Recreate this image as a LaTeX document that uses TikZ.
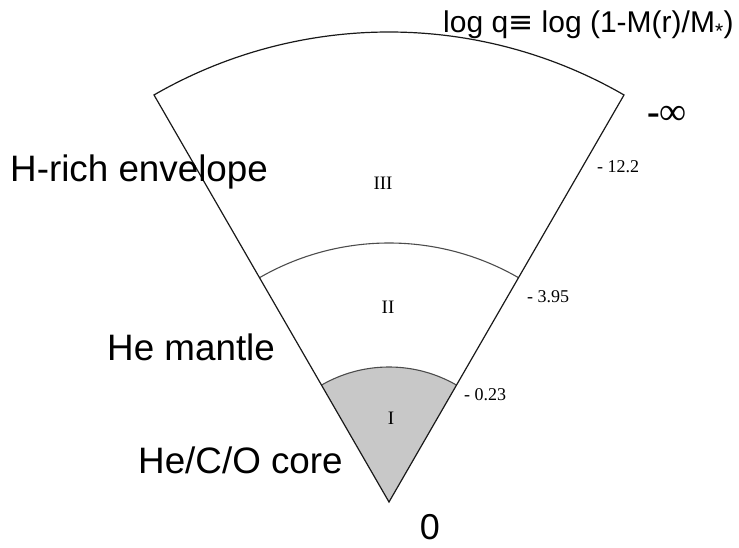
\documentclass[tikz,border=0pt]{standalone}
\usepackage{fontspec}
\setmainfont{Liberation Sans}
\newfontfamily\serifnum{Liberation Serif}
\newfontfamily\symfont{DejaVu Sans}
\usetikzlibrary{calc}
\tikzset{
  edge/.style={draw=black!90, line width=1.2pt, line join=miter},
  arcline/.style={draw=black!70, line width=1.1pt},
  corefill/.style={fill={rgb,255:red,200;green,200;blue,200}},
  biglabel/.style={anchor=base west, inner sep=0pt, font=\fontsize{36.8}{40}\selectfont},
  ticklabel/.style={anchor=base west, inner sep=0pt, font=\serifnum\fontsize{18}{20}\selectfont},
  zonelabel/.style={anchor=center, inner sep=0pt, font=\serifnum\fontsize{19}{20}\selectfont},
}
\begin{document}
\begin{tikzpicture}[x=1pt,y=1pt]
\useasboundingbox (0,0) rectangle (739,547);
\coordinate (O) at (389,45);
% core fill
\fill[corefill] (O) -- ++(120:135) arc[start angle=120,end angle=60,radius=135] -- cycle;
% arcs
\draw[arcline] ($(O)+(120:135)$) arc[start angle=120,end angle=60,radius=135];
\draw[arcline] ($(O)+(120:259)$) arc[start angle=120,end angle=60,radius=259];
% outer wedge
\draw[edge] (O) -- ++(120:470) coordinate (TL)
  arc[start angle=120,end angle=60,radius=470] coordinate (TR) -- cycle;
% labels
\node[anchor=base west, inner sep=0pt, font=\fontsize{30}{32}\selectfont] (title) at (443,514)
  {log q{\symfont ≡} log (1-M(r)/M\textsubscript{*})};
\node[anchor=center, inner sep=0pt, font=\serifnum\fontsize{38}{40}\selectfont] (minf) at (667,432) {\textbf{-}∞};
\node[biglabel] (henv) at (10,365) {H-rich envelope};
\node[biglabel] (hem) at (107,187) {He mantle};
\node[biglabel] (core) at (138,74) {He/C/O core};
\node[anchor=base, inner sep=0pt, font=\fontsize{36}{40}\selectfont] (zero) at (430,8) {0};
\node[ticklabel] (t1) at (597,374) {- 12.2};
\node[ticklabel] (t2) at (527,244) {- 3.95};
\node[ticklabel] (t3) at (464,147) {- 0.23};
\node[zonelabel] (z3) at (383,364) {III};
\node[zonelabel] (z2) at (388,240) {II};
\node[zonelabel] (z1) at (391,129) {I};
\end{tikzpicture}
\end{document}
